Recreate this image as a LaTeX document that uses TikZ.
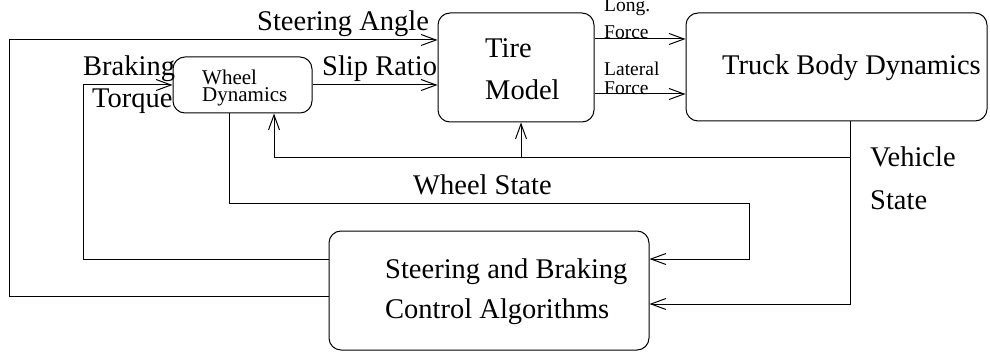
\documentclass[tikz,border=0pt]{standalone}
\usepackage{fontspec}
\setmainfont{Liberation Serif}
\usetikzlibrary{arrows.meta}

\tikzset{
  blk/.style={draw, rounded corners=12pt, line width=1pt, inner sep=0pt},
  sig/.style={line width=1pt, -{Straight Barb[length=15pt, width=11pt, line width=1pt]}},
  lbl/.style={anchor=base west, inner sep=0pt, font=\fontsize{28.5}{34}\selectfont},
  wlbl/.style={lbl, font=\fontsize{21}{25}\selectfont},
  small/.style={lbl, font=\fontsize{19.5}{23}\selectfont}
}

\begin{document}
\begin{tikzpicture}[x=1pt, y=-1pt]
	\useasboundingbox (0,0) rectangle (990,358);

	% blocks
	\node[blk, minimum width=139pt, minimum height=56pt] (wheel) at (242.5,85) {};
	\node[blk, minimum width=156pt, minimum height=109pt] (tire) at (516,67.5) {};
	\node[blk, minimum width=301pt, minimum height=108pt] (truck) at (836.5,67) {};
	\node[blk, minimum width=320pt, minimum height=119pt] (ctrl) at (489,290.5) {};

	\node[wlbl] (wheelA) at (202,85) {Wheel};
	\node[wlbl] (wheelB) at (202,102) {Dynamics};
	\node[lbl] (tireA) at (485,58) {Tire};
	\node[lbl] (tireB) at (485,100) {Model};
	\node[lbl] (truckA) at (722,75) {Truck Body Dynamics};
	\node[lbl] (ctrlA) at (385,278) {Steering and Braking};
	\node[lbl] (ctrlB) at (385,318) {Control Algorithms};

	% signal labels
	\node[lbl] (steer) at (257,31) {Steering Angle};
	\node[lbl] (brakeA) at (83,76) {Braking};
	\node[lbl] (brakeB) at (92,108) {Torque};
	\node[lbl] (slip) at (322,76) {Slip Ratio};
	\node[small] (longA) at (604,12) {Long.};
	\node[small] (longB) at (604,39) {Force};
	\node[small] (latA) at (604,76) {Lateral};
	\node[small] (latB) at (604,95) {Force};
	\node[lbl] (wstate) at (413,194) {Wheel State};
	\node[lbl] (vstateA) at (870,167) {Vehicle};
	\node[lbl] (vstateB) at (870,209) {State};

	\coordinate (vs) at (850,158);
	\coordinate (tin) at (521,158);

	% connectors
	\draw[sig] (ctrl.west |- 0,296) -| (9,40) -- (tire.west |- 0,40);
	\draw[sig] (ctrl.west |- 0,259) -| (83,85) -- (wheel.west);
	\draw[sig] (wheel.east) -- (tire.west |- wheel.east);
	\draw[sig] (tire.east |- 0,39) -- (truck.west |- 0,39);
	\draw[sig] (tire.east |- 0,94) -- (truck.west |- 0,94);
	\draw[sig] (truck.south -| vs) |- (ctrl.east |- 0,304);
	\draw[sig] (vs) -| (wheel.south -| 274,0);
	\draw[sig] (tin) -- (tire.south -| tin);
	\draw[sig] (wheel.south -| 229,0) |- (749,204) |- (ctrl.east |- 0,259);
\end{tikzpicture}
\end{document}
